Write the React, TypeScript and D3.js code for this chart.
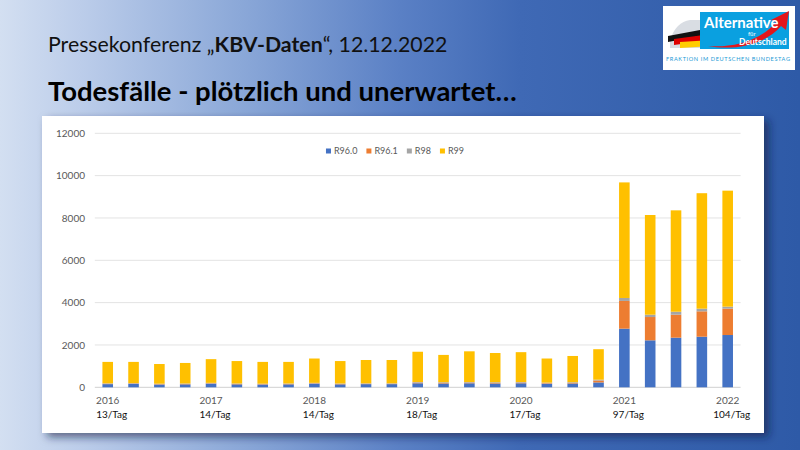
import React, { useEffect, useRef } from 'react';
import * as d3 from 'd3';

// quarterly values 2016 Q1 .. 2022 Q1
const quarters = [
  '2016 Q1', '2016 Q2', '2016 Q3', '2016 Q4',
  '2017 Q1', '2017 Q2', '2017 Q3', '2017 Q4',
  '2018 Q1', '2018 Q2', '2018 Q3', '2018 Q4',
  '2019 Q1', '2019 Q2', '2019 Q3', '2019 Q4',
  '2020 Q1', '2020 Q2', '2020 Q3', '2020 Q4',
  '2021 Q1', '2021 Q2', '2021 Q3', '2021 Q4',
  '2022 Q1',
];
const yearLabels = [
  '2016', '', '', '', '2017', '', '', '', '2018', '', '', '',
  '2019', '', '', '', '2020', '', '', '', '2021', '', '', '', '2022',
];
const rateLabels = [
  '13/Tag', '', '', '', '14/Tag', '', '', '', '14/Tag', '', '', '',
  '18/Tag', '', '', '', '17/Tag', '', '', '', '97/Tag', '', '', '', '104/Tag',
];

const seriesNames = ['R96.0', 'R96.1', 'R98', 'R99'];
const seriesColors = ['#4472C4', '#ED7D31', '#A5A5A5', '#FFC000'];

const r960 = [150, 160, 130, 140, 170, 140, 130, 140, 170, 140, 150, 150, 190, 180, 190, 180, 190, 160, 180, 230, 2770, 2220, 2345, 2390, 2470];
const r961 = [20, 20, 20, 20, 20, 20, 20, 20, 20, 20, 20, 20, 30, 30, 30, 30, 30, 30, 30, 90, 1310, 1100, 1085, 1200, 1245];
const r98 = [20, 20, 20, 20, 20, 20, 20, 20, 20, 20, 20, 20, 30, 30, 30, 30, 30, 30, 30, 40, 140, 110, 140, 125, 95];
const r99 = [1010, 1000, 930, 970, 1120, 1060, 1030, 1020, 1150, 1060, 1100, 1100, 1430, 1290, 1450, 1380, 1410, 1140, 1240, 1440, 5460, 4710, 4790, 5455, 5480];

const yTicks = [0, 2000, 4000, 6000, 8000, 10000, 12000];

const W = 800;
const H = 450;
const FONT = 'Lato, "Open Sans", sans-serif';

export default function App() {
  const svgRef = useRef<SVGSVGElement>(null);

  useEffect(() => {
    if (!svgRef.current) return;
    const svg = d3.select(svgRef.current);
    svg.selectAll('*').remove();

    const defs = svg.append('defs');
    const bg = defs.append('linearGradient').attr('id', 'bg')
      .attr('x1', 0).attr('y1', 0).attr('x2', 1).attr('y2', 0);
    [['0%', '#d3dff1'], ['10%', '#bccdea'], ['30%', '#8ba8d8'], ['50%', '#5a80c5'],
     ['65%', '#3f69b5'], ['100%', '#2e5aa7']].forEach(([o, c]) => {
      bg.append('stop').attr('offset', o).attr('stop-color', c);
    });
    const shadow = defs.append('filter').attr('id', 'shadow')
      .attr('x', '-5%').attr('y', '-5%').attr('width', '115%').attr('height', '120%');
    shadow.append('feDropShadow').attr('dx', 5).attr('dy', 4)
      .attr('stdDeviation', 4).attr('flood-color', '#102040').attr('flood-opacity', 0.6);

    // slide background
    svg.append('rect').attr('width', W).attr('height', H).attr('fill', 'url(#bg)');

    // headings
    const t1 = svg.append('text').attr('x', 48).attr('y', 52)
      .attr('font-family', FONT).attr('font-size', 21.3).attr('fill', '#111');
    t1.append('tspan').text('Pressekonferenz \u201E');
    t1.append('tspan').attr('font-weight', 700).text('KBV-Daten');
    t1.append('tspan').text('\u201C, 12.12.2022');

    svg.append('text').attr('x', 48).attr('y', 101)
      .attr('font-family', FONT).attr('font-size', 27.5).attr('font-weight', 700)
      .attr('fill', '#000').text('Todesfälle - plötzlich und unerwartet…');

    // logo
    const logo = svg.append('g');
    logo.append('rect').attr('x', 663).attr('y', 6).attr('width', 132).attr('height', 64)
      .attr('fill', '#fff');
    logo.append('path').attr('d', 'M670,40 Q676,22 690,20 L700,20 L700,48 L670,48 Z').attr('fill', '#d9dde3');
    [['#111', 0], ['#dd0000', 6], ['#ffcc00', 12]].forEach(([c, o]) => {
      const k = o as number;
      logo.append('path')
        .attr('d', `M${668 + k},${36 + k / 2} L700,${30 + k * 0.9} L700,${36 + k * 0.9} L${668 + k},${42 + k / 2} Z`)
        .attr('fill', c as string);
    });
    logo.append('rect').attr('x', 700).attr('y', 12).attr('width', 89).attr('height', 37)
      .attr('fill', '#0aa0e0');
    logo.append('path')
      .attr('d', 'M708,46 C730,48 760,42 776,22 L771,20 L789,11 L786,30 L781,26 C766,44 736,51 708,46 Z')
      .attr('fill', '#e3161b');
    logo.append('text').attr('x', 704).attr('y', 28).attr('font-family', FONT)
      .attr('font-size', 15).attr('font-weight', 700).attr('fill', '#fff').text('Alternative');
    logo.append('text').attr('x', 748).attr('y', 36).attr('font-family', FONT)
      .attr('font-size', 6).attr('fill', '#fff').text('für');
    logo.append('text').attr('x', 739).attr('y', 45).attr('font-family', FONT)
      .attr('font-size', 8.5).attr('font-weight', 700).attr('fill', '#fff').text('Deutschland');
    logo.append('text').attr('x', 666).attr('y', 61).attr('font-family', FONT)
      .attr('font-size', 5.6).attr('fill', '#1a9ad6').attr('textLength', 124)
      .text('FRAKTION IM DEUTSCHEN BUNDESTAG');

    // chart panel
    svg.append('rect').attr('x', 42).attr('y', 116).attr('width', 722).attr('height', 317)
      .attr('fill', '#fff').attr('filter', 'url(#shadow)');

    const x = d3.scaleBand<string>().domain(quarters).range([94.8, 740.6]).paddingInner(0.59).paddingOuter(0.295);
    const y = d3.scaleLinear().domain([0, 12000]).range([387.3, 133.3]);

    const g = svg.append('g');
    g.selectAll('line.grid').data(yTicks).join('line')
      .attr('x1', 94.8).attr('x2', 740.6)
      .attr('y1', d => y(d)).attr('y2', d => y(d))
      .attr('stroke', d => (d === 0 ? '#d0d0d0' : '#e3e3e3')).attr('stroke-width', 1);
    g.selectAll('text.ytick').data(yTicks).join('text')
      .attr('x', 85).attr('y', d => y(d) + 3.6).attr('text-anchor', 'end')
      .attr('font-family', FONT).attr('font-size', 10).attr('fill', '#595959')
      .text(d => String(d));

    const rows = quarters.map((q, i) => ({
      q, 'R96.0': r960[i], 'R96.1': r961[i], R98: r98[i], R99: r99[i],
    }));
    const stack = d3.stack<any>().keys(seriesNames)(rows);
    stack.forEach((layer, si) => {
      g.append('g').attr('fill', seriesColors[si])
        .selectAll('rect').data(layer).join('rect')
        .attr('x', d => x(d.data.q)!)
        .attr('width', x.bandwidth())
        .attr('y', d => y(d[1]))
        .attr('height', d => y(d[0]) - y(d[1]));
    });

    // category labels
    g.selectAll('text.year').data(quarters).join('text')
      .attr('x', d => x(d)! + x.bandwidth() / 2).attr('y', 404)
      .attr('text-anchor', 'middle').attr('font-family', FONT).attr('font-size', 10)
      .attr('fill', '#595959').text((_, i) => yearLabels[i]);
    g.selectAll('text.rate').data(quarters).join('text')
      .attr('x', d => x(d)! + x.bandwidth() / 2 + 4).attr('y', 418)
      .attr('text-anchor', 'middle').attr('font-family', FONT).attr('font-size', 10)
      .attr('fill', '#111').text((_, i) => rateLabels[i]);

    // legend
    const legend = g.append('g');
    let cx = 0;
    seriesNames.forEach((name, i) => {
      const item = legend.append('g').attr('transform', `translate(${cx},0)`);
      item.append('rect').attr('x', 0).attr('y', -2.5).attr('width', 5).attr('height', 5)
        .attr('fill', seriesColors[i]);
      const t = item.append('text').attr('x', 8).attr('y', 3.2).attr('font-family', FONT)
        .attr('font-size', 9).attr('fill', '#595959').text(name);
      const tw = (t.node() as SVGTextElement).getComputedTextLength();
      cx += 8 + tw + 9;
    });
    const lw = cx - 9;
    legend.attr('transform', `translate(${395 - lw / 2},151)`);
  }, []);

  return (
    <svg
      ref={svgRef}
      width={W}
      height={H}
      style={{ position: 'absolute', left: 0, top: 0 }}
    />
  );
}
